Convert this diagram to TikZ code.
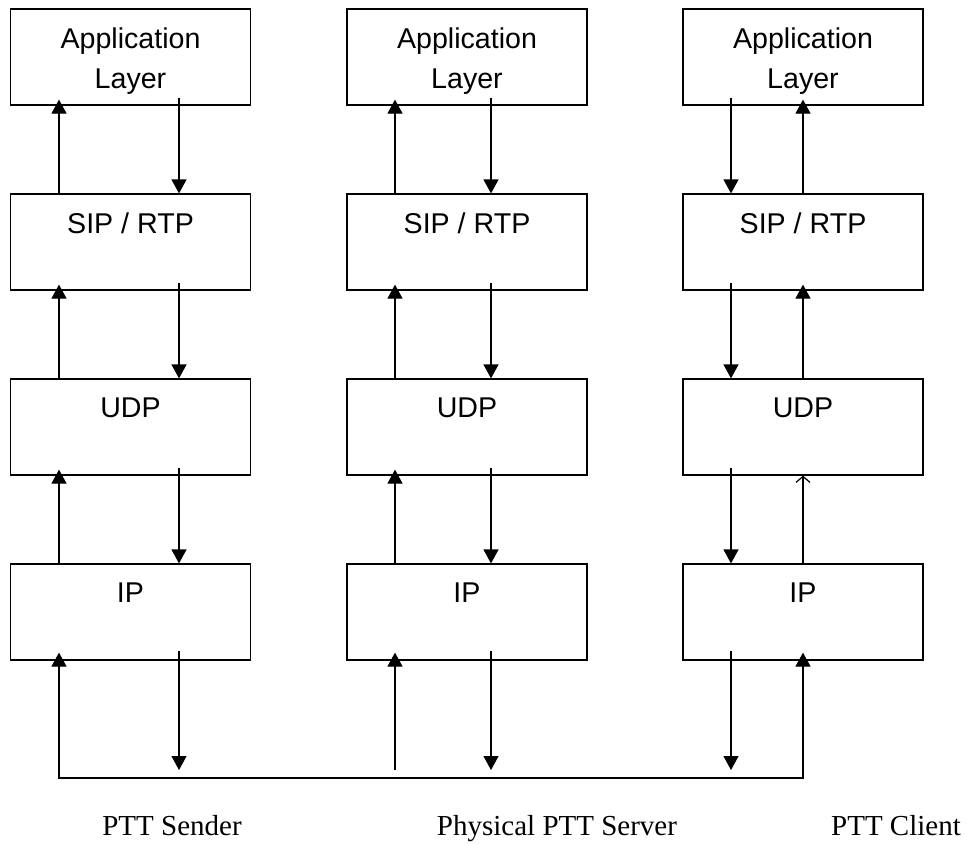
\documentclass[tikz,border=0pt]{standalone}
\usepackage{fontspec}
\setmainfont{Liberation Serif}
\newfontfamily\layerfont{Liberation Sans}
\usetikzlibrary{arrows.meta}

\begin{document}
\begin{tikzpicture}[x=1pt,y=-1pt,line width=1.2pt,
    layer/.style={draw,minimum width=240pt,minimum height=96pt,inner sep=0pt},
    layertext/.style={anchor=north,inner sep=0pt,align=center,font=\layerfont\fontsize{28.6}{40}\selectfont},
    host/.style={anchor=base,inner sep=0pt,font=\fontsize{29}{34}\selectfont},
    flow/.style={-{Triangle[width=15pt,length=14pt]}},
    oddflow/.style={-{Straight Barb[width=14pt,length=6pt]}}]

    \useasboundingbox (0,0) rectangle (967,844);

    \node[layer] (a1) at (130.5,57) {};
    \node[layer] (a2) at (467,57) {};
    \node[layer] (a3) at (803,57) {};
    \node[layer] (s1) at (130.5,242) {};
    \node[layer] (s2) at (467,242) {};
    \node[layer] (s3) at (803,242) {};
    \node[layer] (u1) at (130.5,427) {};
    \node[layer] (u2) at (467,427) {};
    \node[layer] (u3) at (803,427) {};
    \node[layer] (i1) at (130.5,612) {};
    \node[layer] (i2) at (467,612) {};
    \node[layer] (i3) at (803,612) {};

    \node[layertext] (ta1) at ([yshift=-19pt]a1.north) {Application\\Layer};
    \node[layertext] (ta2) at ([yshift=-19pt]a2.north) {Application\\Layer};
    \node[layertext] (ta3) at ([yshift=-19pt]a3.north) {Application\\Layer};
    \node[layertext] (ts1) at ([yshift=-19pt]s1.north) {SIP / RTP};
    \node[layertext] (ts2) at ([yshift=-19pt]s2.north) {SIP / RTP};
    \node[layertext] (ts3) at ([yshift=-19pt]s3.north) {SIP / RTP};
    \node[layertext] (tu1) at ([yshift=-19pt]u1.north) {UDP};
    \node[layertext] (tu2) at ([yshift=-19pt]u2.north) {UDP};
    \node[layertext] (tu3) at ([yshift=-19pt]u3.north) {UDP};
    \node[layertext] (ti1) at ([yshift=-19pt]i1.north) {IP};
    \node[layertext] (ti2) at ([yshift=-19pt]i2.north) {IP};
    \node[layertext] (ti3) at ([yshift=-19pt]i3.north) {IP};

    % sender
    \draw[flow] (s1.north -| 59,0) -- ([yshift=6pt]a1.south -| 59,0);
    \draw[flow] ([yshift=8pt]a1.south -| 179,0) -- (s1.north -| 179,0);
    \draw[flow] (u1.north -| 59,0) -- ([yshift=6pt]s1.south -| 59,0);
    \draw[flow] ([yshift=8pt]s1.south -| 179,0) -- (u1.north -| 179,0);
    \draw[flow] (i1.north -| 59,0) -- ([yshift=6pt]u1.south -| 59,0);
    \draw[flow] ([yshift=8pt]u1.south -| 179,0) -- (i1.north -| 179,0);

    % server
    \draw[flow] (s2.north -| 395,0) -- ([yshift=6pt]a2.south -| 395,0);
    \draw[flow] ([yshift=8pt]a2.south -| 491,0) -- (s2.north -| 491,0);
    \draw[flow] (u2.north -| 395,0) -- ([yshift=6pt]s2.south -| 395,0);
    \draw[flow] ([yshift=8pt]s2.south -| 491,0) -- (u2.north -| 491,0);
    \draw[flow] (i2.north -| 395,0) -- ([yshift=6pt]u2.south -| 395,0);
    \draw[flow] ([yshift=8pt]u2.south -| 491,0) -- (i2.north -| 491,0);

    % client
    \draw[flow] ([yshift=8pt]a3.south -| 731,0) -- (s3.north -| 731,0);
    \draw[flow] (s3.north -| 803,0) -- ([yshift=6pt]a3.south -| 803,0);
    \draw[flow] ([yshift=8pt]s3.south -| 731,0) -- (u3.north -| 731,0);
    \draw[flow] (u3.north -| 803,0) -- ([yshift=6pt]s3.south -| 803,0);
    \draw[flow] ([yshift=8pt]u3.south -| 731,0) -- (i3.north -| 731,0);
    \draw[oddflow] (i3.north -| 803,0) -- (u3.south -| 803,0);

    % physical link
    \coordinate (busl) at (59,778);
    \coordinate (busr) at (803,778);
    \coordinate (d1) at (179,770);
    \coordinate (d2) at (491,770);
    \coordinate (d3) at (731,770);
    \coordinate (p2) at (395,770);
    \draw[{Triangle[width=15pt,length=14pt]}-{Triangle[width=15pt,length=14pt]}]
        ([yshift=8pt]i1.south -| busl) -- (busl) -- (busr) -- ([yshift=8pt]i3.south -| busr);
    \draw[flow] ([yshift=10pt]i1.south -| d1) -- (d1);
    \draw[flow] ([yshift=10pt]i2.south -| d2) -- (d2);
    \draw[flow] ([yshift=10pt]i3.south -| d3) -- (d3);
    \draw[flow] (p2) -- ([yshift=8pt]i2.south -| p2);

    \node[host] (sender) at (172,835) {PTT Sender};
    \node[host] (server) at (557,835) {Physical PTT Server};
    \node[host] (client) at (896,835) {PTT Client};
\end{tikzpicture}
\end{document}
